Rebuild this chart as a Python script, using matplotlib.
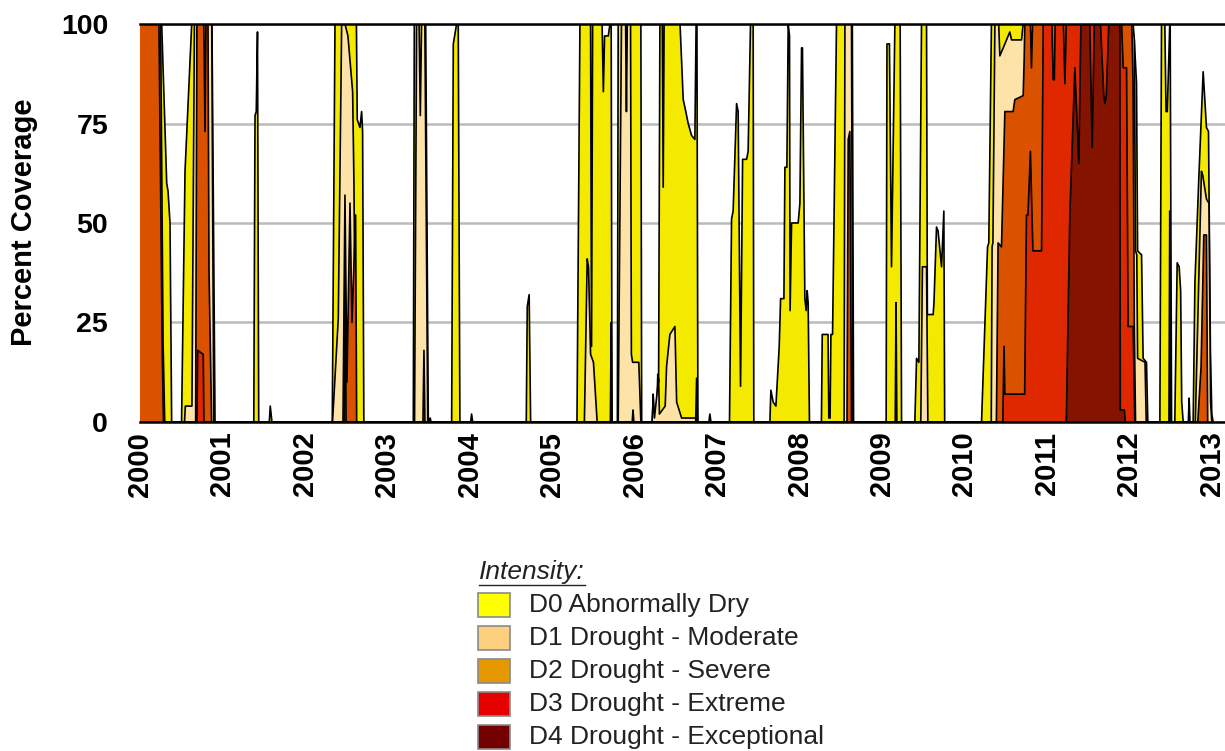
import matplotlib
matplotlib.use('Agg')
import matplotlib.pyplot as plt
from matplotlib.patches import Rectangle
from matplotlib.lines import Line2D

plt.rcParams['font.family'] = ['Liberation Sans', 'DejaVu Sans']

# weekly drought coverage (cumulative %), x in decimal years
d0_x = [2000.0, 2000.263, 2000.324, 2000.34, 2000.364, 2000.384, 2000.504, 2000.546, 2000.627, 2000.873, 2000.91,
        2001.38, 2001.395, 2001.41, 2001.425, 2001.44, 2001.568, 2001.58, 2001.6,
        2002.332, 2002.365, 2002.625, 2002.635, 2002.668, 2002.688, 2002.70, 2002.715,
        2003.315, 2003.327, 2003.465, 2003.497, 2003.51, 2003.52, 2003.53,
        2003.78, 2003.80, 2003.84, 2003.86, 2003.88, 2004.01, 2004.022, 2004.035,
        2004.685, 2004.697, 2004.72, 2004.738,
        2005.30, 2005.336, 2005.465, 2005.477, 2005.49, 2005.605, 2005.62, 2005.635, 2005.68, 2005.70, 2005.715, 2005.725,
        2005.79, 2005.80, 2006.075, 2006.085,
        2006.215, 2006.225, 2006.235, 2006.265, 2006.28, 2006.29, 2006.306, 2006.335, 2006.346, 2006.357, 2006.55,
        2006.589, 2006.62, 2006.649, 2006.69, 2006.73, 2006.745, 2006.755, 2006.767, 2006.90, 2006.912, 2006.925,
        2007.15, 2007.175, 2007.194, 2007.236, 2007.255, 2007.284, 2007.309, 2007.357, 2007.376, 2007.405, 2007.437, 2007.445,
        2007.64, 2007.652, 2007.68, 2007.713, 2007.753, 2007.77, 2007.81, 2007.822, 2007.846, 2007.862, 2007.878, 2007.885,
        2007.903, 2007.983, 2008.004, 2008.024, 2008.035, 2008.064, 2008.08, 2008.092, 2008.104, 2008.12,
        2008.265, 2008.275, 2008.345, 2008.355, 2008.37, 2008.38, 2008.40, 2008.448, 2008.64, 2008.655,
        2009.05, 2009.06, 2009.09, 2009.115, 2009.156, 2009.22, 2009.237,
        2009.398, 2009.419, 2009.447, 2009.479, 2009.54, 2009.55, 2009.62, 2009.63, 2009.661, 2009.68, 2009.722, 2009.75, 2009.76,
        2010.207, 2010.28, 2010.295, 2010.327, 2012.03, 2012.06, 2012.087, 2012.10, 2012.148, 2012.167, 2012.208, 2012.224,
        2012.37, 2012.39, 2012.43, 2012.445, 2012.46, 2012.49, 2012.495, 2012.512,
        2012.551, 2012.58, 2012.604, 2012.622, 2012.635, 2012.653, 2012.715, 2012.725, 2012.735,
        2012.774, 2012.795, 2012.84, 2012.895, 2012.935, 2012.96, 2012.983, 2013.0, 2013.016]
d0_y = [100, 100, 60, 58, 50, 0, 0, 63, 100, 100, 0,
        0, 77, 78, 98, 0, 0, 4, 0,
        0, 100, 100, 76, 74, 78, 73, 0,
        0, 100, 100, 0, 0, 1, 0,
        0, 95, 100, 100, 0, 0, 2, 0,
        0, 29, 32, 0,
        0, 100, 100, 19, 100, 100, 83, 97, 97, 100, 100, 0,
        0, 100, 100, 0,
        0, 7, 0, 0, 12, 10, 100, 100, 59, 100, 100,
        81, 78, 75, 72, 71, 100, 100, 0, 0, 2, 0,
        0, 51, 53, 80, 78, 9, 66, 66, 68, 100, 100, 0,
        0, 8, 5, 4, 19, 31, 31, 64, 64, 100, 97, 28,
        50, 50, 55, 94, 94, 31, 28, 33, 30, 0,
        0, 22, 22, 1, 1, 22, 22, 100, 100, 0,
        0, 95, 95, 39, 100, 100, 0,
        0, 16, 15, 100, 100, 27, 27, 30, 49, 48, 39, 53, 0,
        0, 44, 45, 100, 100, 96, 85, 43, 42, 16, 15, 0,
        0, 100, 100, 78, 78, 100, 100, 0,
        0, 40, 39, 33, 5, 0, 0, 6, 0,
        0, 35, 60, 88, 74, 73, 18, 2, 0]

d1_x = [2000.0, 2000.25, 2000.28, 2000.30, 2000.54, 2000.55, 2000.63, 2000.66, 2000.87, 2000.895,
        2002.335, 2002.405, 2002.446, 2002.486, 2002.522, 2002.579, 2002.595, 2002.619,
        2003.33, 2003.355, 2003.385, 2003.40, 2003.415, 2003.455, 2003.49,
        2005.39, 2005.424, 2005.44, 2005.465, 2005.50, 2005.545,
        2005.80, 2005.84, 2005.89, 2005.90, 2005.91, 2005.95, 2005.96, 2005.975, 2006.05, 2006.075,
        2006.21, 2006.225, 2006.24, 2006.29, 2006.30, 2006.37, 2006.387, 2006.427, 2006.488, 2006.509, 2006.569,
        2006.745, 2006.755,
        2008.54, 2008.55, 2008.63, 2008.645, 2009.16, 2009.17, 2009.18,
        2009.47, 2009.49, 2009.54, 2009.556,
        2010.325, 2010.335, 2010.345, 2010.369, 2010.415, 2010.429, 2010.47, 2010.51, 2010.55, 2010.571, 2010.692,
        2010.712, 2012.046, 2012.06, 2012.075, 2012.09, 2012.10, 2012.19, 2012.205,
        2012.48, 2012.49, 2012.50,
        2012.80, 2012.874, 2012.89, 2012.935, 2012.965, 2012.985, 2013.0]
d1_y = [100, 100, 20, 0, 0, 4, 4, 100, 100, 0,
        0, 26, 100, 100, 97, 83, 60, 0,
        0, 100, 100, 77, 100, 100, 0,
        0, 41, 39, 17, 15, 0,
        0, 100, 100, 78, 100, 100, 17, 15, 15, 0,
        0, 6, 1, 11, 2, 4, 14, 22, 24, 5, 1,
        1, 0,
        0, 100, 100, 0, 0, 30, 0,
        0, 39, 39, 0,
        0, 44, 45, 100, 100, 92, 94, 96, 98, 96, 96,
        100, 100, 96, 43, 42, 16, 15, 0,
        0, 53, 0,
        0, 63, 62, 56, 55, 5, 0]

d2_x = [2000.0, 2000.23, 2000.27, 2000.285, 2000.675, 2000.69, 2000.775, 2000.788, 2000.80, 2000.825, 2000.837, 2000.869,
        2002.462, 2002.486, 2002.51, 2002.547, 2002.571, 2002.615, 2002.628,
        2003.432, 2003.444, 2003.456, 2005.705, 2005.715, 2005.725, 2005.97, 2005.98, 2005.99,
        2006.74, 2006.751, 2006.762, 2008.575, 2008.59, 2008.61, 2008.63,
        2010.387, 2010.408, 2010.449, 2010.49, 2010.59, 2010.611, 2010.712, 2010.724, 2010.732, 2010.80, 2010.813,
        2010.826, 2012.03, 2012.045, 2012.06, 2012.075,
        2012.83, 2012.87, 2012.903, 2012.935, 2012.95]
d2_y = [100, 100, 17, 0, 0, 100, 100, 73, 100, 100, 38, 0,
        0, 57, 10, 55, 25, 52, 0,
        0, 18, 0, 0, 25, 0, 0, 3, 0,
        0, 11, 0, 0, 71, 73, 0,
        0, 45, 44, 78, 78, 81, 82, 91, 100, 100, 89,
        100, 100, 85, 24, 0,
        0, 14, 47, 47, 0]

d3_x = [2000.69, 2000.70, 2000.767, 2000.775, 2002.475, 2002.486, 2002.50,
        2010.465, 2010.48, 2010.49, 2010.73, 2010.752, 2010.77, 2010.80, 2010.83, 2010.935, 2010.955,
        2011.06, 2011.076, 2011.09, 2011.10, 2011.20, 2011.218, 2011.235,
        2011.906, 2011.925, 2011.966, 2011.985, 2012.046, 2012.066]
d3_y = [0, 18, 17, 0, 0, 40, 0,
        0, 19, 7, 7, 52, 52, 68, 43, 43, 100,
        100, 86, 86, 100, 100, 85, 100,
        100, 89, 89, 24, 24, 0]

d4_x = [2011.235, 2011.278, 2011.339, 2011.387, 2011.412, 2011.52, 2011.549, 2011.575, 2011.65, 2011.69, 2011.703,
        2011.72, 2011.75, 2011.885, 2011.89, 2011.94, 2011.95]
d4_y = [0, 52, 89, 65, 100, 100, 69, 100, 100, 82, 80,
        82, 100, 100, 3, 3, 0]

years = list(range(2000, 2014))
legend_labels = ['D0 Abnormally Dry', 'D1 Drought - Moderate', 'D2 Drought - Severe',
                 'D3 Drought - Extreme', 'D4 Drought - Exceptional']
fill_colors = ['#f4ea00', '#fee3a9', '#da5200', '#e02800', '#841400']
legend_colors = ['#ffff00', '#fdd07f', '#e69800', '#e60000', '#730000']

W, H = 1225, 751
fig = plt.figure(figsize=(W / 100, H / 100), dpi=100)
ax = fig.add_axes([140 / W, 1 - 422 / H, (W - 140) / W, (422 - 24) / H])

series = [(d0_x, d0_y), (d1_x, d1_y), (d2_x, d2_y), (d3_x, d3_y), (d4_x, d4_y)]
for i, ((xs, ys), c) in enumerate(zip(series, fill_colors)):
    ax.fill_between(xs, 0, ys, facecolor=c, edgecolor='none', zorder=2 + i * 0.08)
    ax.plot(xs, ys, color='black', lw=1.2, zorder=2.04 + i * 0.08)

ax.set_xlim(2000, 2013.16)
ax.set_ylim(0, 100)
ax.set_yticks([0, 25, 50, 75, 100])
ax.set_yticklabels(['0', '25', '50', '75', '100'], fontsize=20.5, fontweight='bold')
ax.set_xticks(years)
ax.set_xticklabels([str(y) for y in years], fontsize=21, fontweight='bold', rotation=90)
ax.tick_params(axis='y', length=0, pad=23)
ax.tick_params(axis='x', length=0, pad=7)
ax.grid(axis='y', color='#bbbbbb', lw=1.8)
ax.grid(axis='x', visible=False)
ax.set_axisbelow(True)
for side in ['left', 'right']:
    ax.spines[side].set_visible(False)
for side in ['top', 'bottom']:
    ax.spines[side].set_linewidth(1.8)
    ax.spines[side].set_color('black')

fig.text(24 / W, 1 - 222 / H, 'Percent Coverage', rotation=90, ha='center', va='center',
         fontsize=21, fontweight='bold')

# legend
t = fig.text(479 / W, 1 - 572 / H, 'Intensity:', fontsize=19, style='italic', ha='left', va='center', color='#222222')
fig.canvas.draw()
bb = t.get_window_extent().transformed(fig.transFigure.inverted())
fig.add_artist(Line2D([bb.x0, bb.x1], [1 - 585 / H, 1 - 585 / H], transform=fig.transFigure, color='#222222', lw=1))
for i, (lab, c) in enumerate(zip(legend_labels, legend_colors)):
    yc = 605 + 33 * i
    fig.add_artist(Rectangle((478 / W, 1 - (yc + 12) / H), 32 / W, 24 / H, transform=fig.transFigure,
                             facecolor=c, edgecolor='#8a8a8a', lw=1.2))
    fig.text(529 / W, 1 - yc / H, lab, fontsize=19, ha='left', va='center', color='#222222')

fig.savefig('out.png', dpi=100)
